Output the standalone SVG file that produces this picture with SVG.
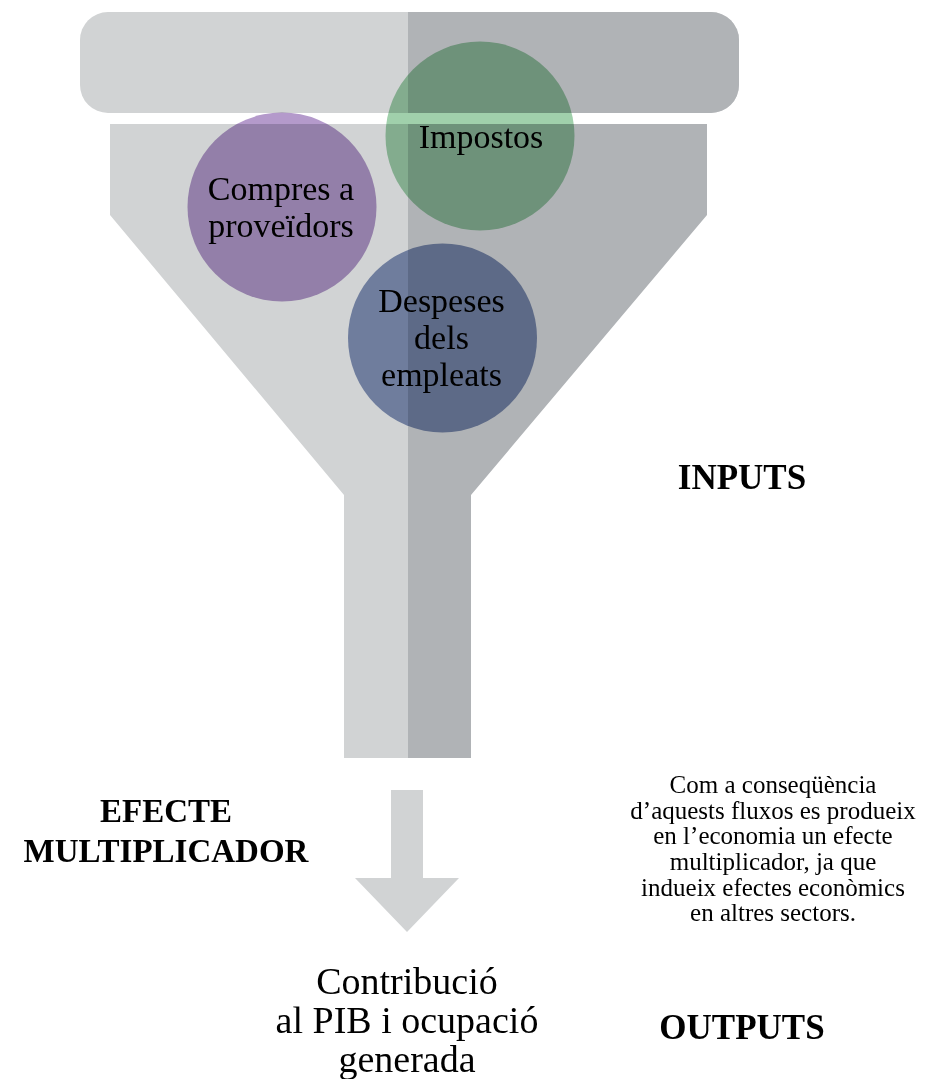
<svg xmlns="http://www.w3.org/2000/svg" width="926" height="1079" viewBox="0 0 926 1079">
<style>
.light{fill:#d1d3d4}
.dark{fill:#b0b3b6}
.bubble{mix-blend-mode:multiply}
.ct{font-family:"Liberation Serif","Times New Roman",serif;font-size:34px;fill:#000;text-anchor:middle}
.lbl{font-family:"Liberation Serif","Times New Roman",serif;font-weight:bold;fill:#000;text-anchor:middle}
.para{font-family:"Liberation Serif","Times New Roman",serif;font-size:25px;fill:#000;text-anchor:middle}
.out{font-family:"Liberation Serif","Times New Roman",serif;font-size:38px;fill:#000;text-anchor:middle}
</style>
<rect width="926" height="1079" fill="#ffffff"/>
<g id="bar">
<rect class="light" x="80" y="12" width="659" height="101" rx="28" ry="28"/>
<path class="dark" d="M408,12 H711 A28,28 0 0 1 739,40 V85 A28,28 0 0 1 711,113 H408 Z"/>
</g>
<g id="funnel">
<polygon class="light" points="110,124 408,124 408,758 344,758 344,495 110,215"/>
<polygon class="dark" points="408,124 707,124 707,215 471,495 471,758 408,758"/>
</g>
<g id="node-compres">
<circle class="bubble" cx="282" cy="207" r="94.5" fill="#b49acb"/>
<text class="ct" x="281" y="200">Compres a</text>
<text class="ct" x="281" y="237">proveïdors</text>
</g>
<g id="node-impostos">
<circle class="bubble" cx="480" cy="136" r="94.5" fill="#a0d0ab"/>
<text class="ct" x="481" y="148">Impostos</text>
</g>
<g id="node-despeses">
<circle class="bubble" cx="442.5" cy="338" r="94.5" fill="#8797bd"/>
<text class="ct" x="441.5" y="312">Despeses</text>
<text class="ct" x="441.5" y="349">dels</text>
<text class="ct" x="441.5" y="386">empleats</text>
</g>
<g id="connectors">
<polygon class="light" points="391,790 423,790 423,878 459,878 407,932 355,878 391,878"/>
</g>
<g id="label-inputs">
<text class="lbl" x="742" y="489" font-size="35">INPUTS</text>
</g>
<g id="label-efecte">
<text class="lbl" x="166" y="822" font-size="33">EFECTE</text>
<text class="lbl" x="166" y="862" font-size="33">MULTIPLICADOR</text>
</g>
<g id="note">
<text class="para" x="773" y="793">Com a conseqüència</text>
<text class="para" x="773" y="819">d’aquests fluxos es produeix</text>
<text class="para" x="773" y="844">en l’economia un efecte</text>
<text class="para" x="773" y="870">multiplicador, ja que</text>
<text class="para" x="773" y="896">indueix efectes econòmics</text>
<text class="para" x="773" y="921">en altres sectors.</text>
</g>
<g id="node-output">
<text class="out" x="407" y="994">Contribució</text>
<text class="out" x="407" y="1033">al PIB i ocupació</text>
<text class="out" x="407" y="1072">generada</text>
</g>
<g id="label-outputs">
<text class="lbl" x="742" y="1039" font-size="35">OUTPUTS</text>
</g>
</svg>
